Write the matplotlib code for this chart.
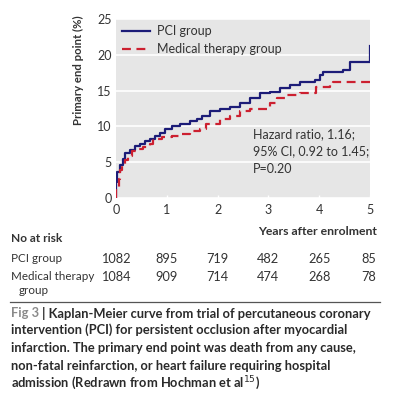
import matplotlib
matplotlib.use("Agg")
import matplotlib.pyplot as plt

plt.rcParams['font.family'] = ['Lato', 'DejaVu Sans']

# Kaplan-Meier steps (years, % with primary end point)
pci_t = [0, 0.005, 0.015, 0.08, 0.13, 0.18, 0.28, 0.37, 0.47, 0.57, 0.67, 0.77, 0.87, 0.96,
         1.1, 1.26, 1.46, 1.59, 1.7, 1.85, 2.05, 2.24, 2.44, 2.64, 2.83, 3.03, 3.23, 3.43,
         3.62, 3.92, 4.02, 4.08, 4.47, 4.6, 5.0, 5.0]
pci_y = [0, 2.3, 3.7, 4.6, 5.4, 6.3, 6.7, 7.2, 7.5, 7.9, 8.2, 8.7, 9.1, 9.6,
         10.1, 10.4, 10.7, 11.1, 11.5, 12.2, 12.4, 12.75, 13.2, 13.9, 14.6, 14.8, 15.3, 15.8,
         16.2, 16.5, 17.2, 17.6, 17.9, 19.0, 19.2, 21.2]

med_t = [0, 0.005, 0.05, 0.08, 0.11, 0.18, 0.24, 0.31, 0.41, 0.54, 0.67, 0.73, 0.9,
         1.1, 1.26, 1.46, 1.65, 1.78, 2.05, 2.24, 2.44, 2.64, 2.87, 3.03, 3.16, 3.36,
         3.62, 3.92, 3.94, 4.21, 4.27, 5.0]
med_y = [0, 1.6, 2.7, 3.9, 4.6, 5.3, 5.8, 6.5, 6.8, 7.1, 7.6, 8.2, 8.5,
         8.7, 9.0, 9.4, 9.7, 10.4, 11.0, 11.5, 12.1, 12.4, 12.5, 13.2, 13.9, 14.4,
         14.6, 14.7, 15.5, 15.8, 16.2, 16.2]

years = [0, 1, 2, 3, 4, 5]
risk_pci = [1082, 895, 719, 482, 265, 85]
risk_med = [1084, 909, 714, 474, 268, 78]

blue = '#1c1c78'
red = '#cc2030'
txt = '#333333'
fs = 9.0

W, H = 399, 400
fig = plt.figure(figsize=(W / 100, H / 100), dpi=100)
renderer = fig.canvas.get_renderer()


def fit(t, width, vertical=False):
    # scale the font so the text spans the given number of pixels
    for _ in range(3):
        bb = t.get_window_extent(renderer)
        cur = bb.height if vertical else bb.width
        t.set_fontsize(t.get_fontsize() * width / cur)
    return t


def fx(px):
    return px / W


def fy(py):
    return 1 - py / H


ax = fig.add_axes([fx(116), fy(198), 254 / W, 179 / H])
ax.set_facecolor('#e6e6e6')
for s in ax.spines.values():
    s.set_visible(False)
ax.set_xlim(0, 5)
ax.set_ylim(0, 25)
ax.set_yticks([0, 5, 10, 15, 20, 25])
ax.set_xticks(years)
ax.grid(axis='y', color='white', linewidth=1.2)
ax.set_axisbelow(True)
ax.tick_params(axis='x', direction='in', length=2.5, color='white', width=1,
               labelsize=fs, labelcolor=txt, pad=4.5)
ax.tick_params(axis='y', length=0, labelsize=fs, labelcolor=txt, pad=3)

ax.plot(pci_t, pci_y, drawstyle='steps-post', color=blue, lw=1.6, label='PCI group')
ax.plot(med_t, med_y, drawstyle='steps-post', color=red, lw=1.6, dashes=(4, 2.5),
        label='Medical therapy group')
leg = ax.legend(loc='upper left', frameon=False, fontsize=fs, handlelength=2.2,
                handletextpad=0.6, borderaxespad=0.15, borderpad=0.35, labelspacing=0.45,
                labelcolor=txt)

hz = ax.text(2.69, 9.7, 'Hazard ratio, 1.16;\n95% CI, 0.92 to 1.45;\nP=0.20', fontsize=fs,
             color=txt, va='top', linespacing=1.5)

yl = fig.text(fx(78), fy(70), 'Primary end point (%)', rotation=90, ha='center', va='center',
              fontsize=10.5, fontweight='bold', color=txt)
fit(yl, 110, vertical=True)

# numbers at risk
yr = fig.text(fx(377), fy(232), 'Years after enrolment', ha='right', va='center',
              fontsize=10.5, fontweight='bold', color=txt)
fit(yr, 119)
nr = fig.text(fx(11), fy(239), 'No at risk', ha='left', va='center',
              fontsize=10.5, fontweight='bold', color=txt)
fit(nr, 52)
mt = fig.text(fx(11), fy(277), 'Medical therapy', ha='left', va='center', fontsize=fs,
              color=txt)
fit(mt, 84)
rs = mt.get_fontsize()
fig.text(fx(11), fy(259), 'PCI group', ha='left', va='center', fontsize=rs, color=txt)
fig.text(fx(19), fy(291), 'group', ha='left', va='center', fontsize=rs, color=txt)
for x, a, b in zip(years, risk_pci, risk_med):
    px = ax.transData.transform((x, 0))[0]
    xf = px / fig.bbox.width
    if x == 5:
        xf -= 1 / W
    fig.text(xf, fy(259), str(a), ha='center', va='center', fontsize=fs + 0.2, color=txt)
    fig.text(xf, fy(277), str(b), ha='center', va='center', fontsize=fs + 0.2, color=txt)

fig.add_artist(plt.Line2D([fx(10), fx(380)], [fy(302), fy(302)], color='#555555', lw=0.9))

cap = ['Kaplan-Meier curve from trial of percutaneous coronary',
       'intervention (PCI) for persistent occlusion after myocardial',
       'infarction. The primary end point was death from any cause,',
       'non-fatal reinfarction, or heart failure requiring hospital',
       'admission (Redrawn from Hochman et al$^{15}$)']
ys = [313, 330, 348, 366, 383]
probe = fig.text(fx(11), fy(ys[0]), 'Fig 3 | ' + cap[0], ha='left', va='center',
                 fontsize=11, fontweight='bold')
fit(probe, 359)
cs = probe.get_fontsize()
probe.remove()
t0 = fig.text(fx(11), fy(ys[0]), 'Fig 3', ha='left', va='center', fontsize=cs,
              fontweight='bold', color='#8a8a8a')
bb = t0.get_window_extent(renderer)
fig.text(bb.x1 / fig.bbox.width, fy(ys[0]), ' | ' + cap[0], ha='left', va='center',
         fontsize=cs, fontweight='bold', color='#2a2a2a')
for line, y in zip(cap[1:], ys[1:]):
    fig.text(fx(11), fy(y), line, ha='left', va='center', fontsize=cs,
             fontweight='bold', color='#2a2a2a')

fig.savefig('out.png', dpi=100)
